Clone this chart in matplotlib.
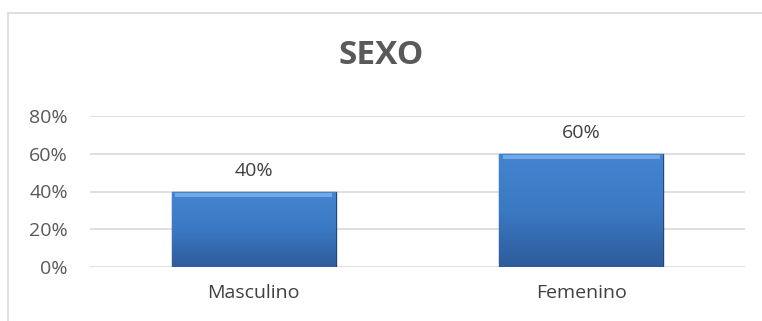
import matplotlib.pyplot as plt
import numpy as np
from matplotlib.patches import Rectangle
from matplotlib.colors import LinearSegmentedColormap

categories = ['Masculino', 'Femenino']
values = [0.40, 0.60]
yticks = [0, 0.2, 0.4, 0.6, 0.8]

plt.rcParams['font.family'] = ['Open Sans', 'DejaVu Sans']
grey = '#595959'

fig = plt.figure(figsize=(7.62, 3.21), dpi=100)
# chart area border
fig.patches.append(Rectangle((8 / 762, -0.01), 1.0, 1 - 13 / 321 + 0.01,
                             transform=fig.transFigure, fill=False,
                             edgecolor='#D9D9D9', linewidth=1.2))

ax = fig.add_axes([90 / 762, 1 - 267 / 321, 655 / 762, 151 / 321])
x = np.arange(len(categories))
bars = ax.bar(x, values, 0.5, color='#3D79C3', edgecolor='#23497A',
              linewidth=1.0, zorder=3)

# vertical shading inside each bar
cmap = LinearSegmentedColormap.from_list('barshade', ['#2D5C9A', '#3B79C4', '#4584D0'])
grad = np.linspace(0, 1, 256).reshape(-1, 1)
for b in bars:
    x0, w, h = b.get_x(), b.get_width(), b.get_height()
    im = ax.imshow(grad, extent=(x0, x0 + w, 0, h), origin='lower',
                   cmap=cmap, aspect='auto', zorder=4)
    im.set_clip_path(b)
    # bevel highlight along the top
    ax.add_patch(Rectangle((x0 + w * 0.02, h - 0.03), w * 0.96, 0.022,
                           facecolor='#7FB2EC', edgecolor='none', alpha=0.8, zorder=5))

for xi, v in zip(x, values):
    ax.text(xi, v + 0.06, f'{v:.0%}', ha='center', va='bottom',
            fontsize=14, color='#404040')

ax.set_xlim(-0.5, 1.5)
ax.set_ylim(0, 0.8)
ax.set_yticks(yticks)
ax.set_yticklabels([f'{t:.0%}' for t in yticks], fontsize=14, color=grey)
ax.set_xticks(x)
ax.set_xticklabels(categories, fontsize=14, color='#404040')
ax.tick_params(length=0, axis='y', pad=16)
ax.tick_params(length=0, axis='x', pad=12)
ax.grid(axis='y', color='#D9D9D9', linewidth=1.2, zorder=0)
for s in ax.spines.values():
    s.set_visible(False)

fig.text(0.5, 1 - 55 / 321, 'SEXO', ha='center', va='center',
         fontsize=24, fontweight='bold', color=grey)

fig.savefig('out.png', dpi=100)
